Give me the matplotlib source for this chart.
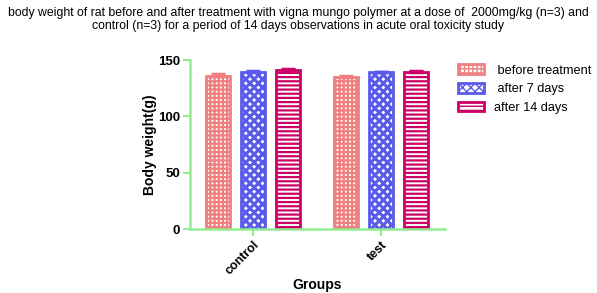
import matplotlib.pyplot as plt
import numpy as np

plt.rcParams["font.family"] = ["Liberation Sans", "DejaVu Sans"]

groups = ["control", "test"]
series = [" before treatment", " after 7 days", "after 14 days"]
means = {
    " before treatment": [136.2, 135.3],
    " after 7 days": [139.4, 139.0],
    "after 14 days": [141.0, 139.6],
}
errors = {
    " before treatment": [1.0, 0.6],
    " after 7 days": [0.9, 0.5],
    "after 14 days": [0.8, 0.3],
}
edge_colors = ["#F08080", "#5A5AEB", "#CC0066"]
hatches = ["++++", "xxxx", "----"]
hatch_widths = [1.6, 2.2, 1.6]

fig = plt.figure(figsize=(5.97, 2.93), dpi=100)
ax = fig.add_axes([0.318, 0.218, 0.427, 0.577])

x = np.arange(len(groups))
width = 0.19
step = 0.273
handles = []
for i, name in enumerate(series):
    pos = x + (i - 1) * step
    with plt.rc_context({"hatch.linewidth": hatch_widths[i]}):
        bars = ax.bar(pos, means[name], width, facecolor="white",
                      edgecolor=edge_colors[i], hatch=hatches[i],
                      linewidth=2, label=name, zorder=2)
    ax.errorbar(pos, means[name], yerr=[np.zeros(len(groups)), errors[name]],
                fmt="none", ecolor=edge_colors[i], elinewidth=2,
                capsize=5, capthick=2.5, zorder=3)
    handles.append(bars)

ax.set_xlim(-0.492, 1.5)
ax.set_ylim(0, 150)
ax.set_yticks([0, 50, 100, 150])
ax.set_xticks(x)
ax.set_xticklabels(groups, rotation=45, ha="right", rotation_mode="anchor",
                   fontweight="bold", fontsize=9)
for lab in ax.get_yticklabels():
    lab.set_fontweight("bold")
    lab.set_fontsize(9.5)

for side in ["top", "right"]:
    ax.spines[side].set_visible(False)
for side in ["left", "bottom"]:
    ax.spines[side].set_color("#90EE90")
    ax.spines[side].set_linewidth(1.8)
ax.tick_params(colors="#90EE90", labelcolor="black", width=1.5, length=5, pad=2)

ax.set_ylabel("Body weight(g)", fontweight="bold", fontsize=10, labelpad=1)
ax.set_xlabel("Groups", fontweight="bold", fontsize=10, labelpad=0.5)

fig.text(0.5, 0.975,
         "body weight of rat before and after treatment with vigna mungo polymer at a dose of  2000mg/kg (n=3) and\n"
         "control (n=3) for a period of 14 days observations in acute oral toxicity study",
         ha="center", va="top", fontsize=8.8, linespacing=1.1,
         family=["Liberation Sans Narrow", "Liberation Sans", "DejaVu Sans"])

fig.legend(handles, series, loc="upper left", bbox_to_anchor=(0.748, 0.82),
           frameon=False, fontsize=9.2, handlelength=2.0, handleheight=0.8,
           labelspacing=0.5, handletextpad=0.85)

fig.savefig("out.png", dpi=100)
